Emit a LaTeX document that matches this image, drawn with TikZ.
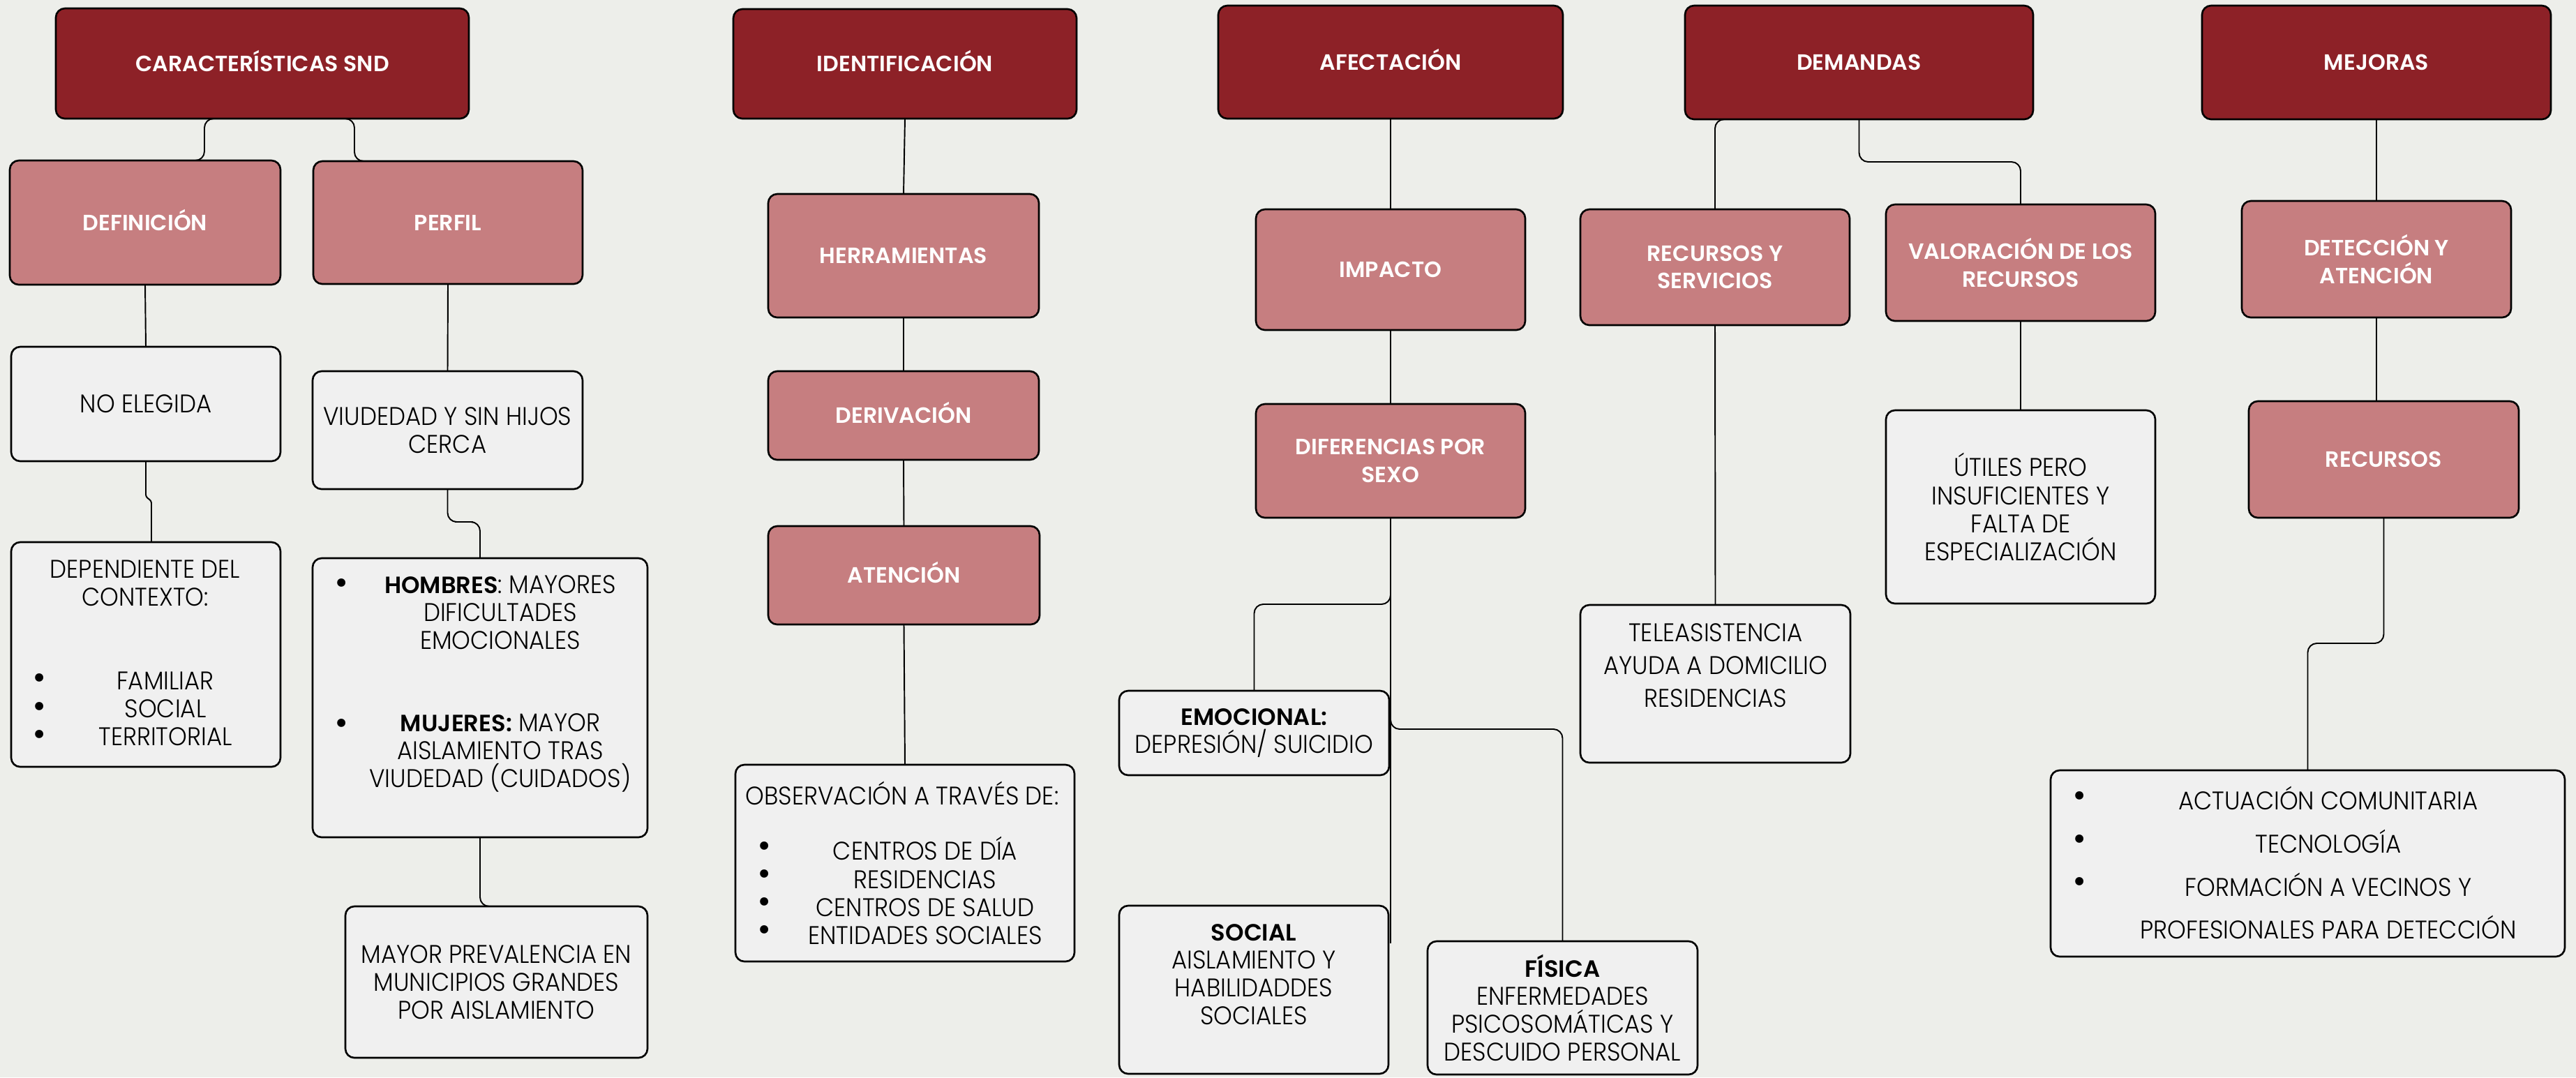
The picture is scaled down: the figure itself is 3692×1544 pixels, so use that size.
\documentclass[tikz,border=0pt]{standalone}
\usepackage{fontspec}
\IfFontExistsTF{Poppins SemiBold}
  {\newfontfamily\titlef{Poppins SemiBold}}
  {\newfontfamily\titlefam{Poppins}\newcommand\titlef{\titlefam\bfseries}}
\IfFontExistsTF{Poppins Light}
  {\newfontfamily\bodyf{Poppins Light}[FakeStretch=0.93]}
  {\newfontfamily\bodyf{Poppins}[FakeStretch=0.93]}
\newcommand\bodysize{\fontsize{10.4}{11.4}\selectfont}
\newcommand\bt[1]{{\titlef\fontsize{9.6}{11.4}\selectfont #1}}
\definecolor{cDark}{RGB}{141,33,39}
\definecolor{cPink}{RGB}{198,126,128}
\definecolor{cLight}{RGB}{240,240,240}
\definecolor{cBg}{RGB}{237,238,234}
\tikzset{
  base/.style={rectangle, rounded corners=0.13cm, draw=black, line width=0.75pt, inner sep=0pt, outer sep=0pt, align=center},
  dark/.style={base, fill=cDark, text=white, font=\titlef\fontsize{9}{11.2}\selectfont},
  pink/.style={base, fill=cPink, text=white, font=\titlef\fontsize{9}{11.2}\selectfont},
  oneline/.style={text height=6.4pt, text depth=0pt},
  light/.style={base, fill=cLight, text=black, font=\bodyf\bodysize},
  txt/.style={inner sep=0pt, outer sep=0pt, align=center, text=black, font=\bodyf\bodysize},
  bul/.style={inner sep=0pt, outer sep=0pt, align=center, text=black, font=\titlef\fontsize{12}{11.4}\selectfont},
  conn/.style={draw=black, line width=0.55pt, rounded corners=0.13cm},
}
\newcommand\bx[7]{\node[#2, minimum width={(#5-#3)*0.01cm}, minimum height={(#6-#4)*0.01cm}] (#1) at ({(#3+#5)/2},{(#4+#6)/2}) {#7};}
\begin{document}
\begin{tikzpicture}[x=0.01cm, y=-0.01cm]
\fill[cBg] (0,0) rectangle (3692,1544);
\useasboundingbox (0,0) rectangle (3692,1544);

% title boxes
\bx{car}{dark,oneline}{80}{12}{672}{170}{CARACTERÍSTICAS SND}
\bx{ide}{dark,oneline}{1051}{13}{1543}{170}{IDENTIFICACIÓN}
\bx{afe}{dark,oneline}{1746}{8}{2240}{170}{AFECTACIÓN}
\bx{dem}{dark,oneline}{2415}{8}{2914}{171}{DEMANDAS}
\bx{mej}{dark,oneline}{3156}{8}{3656}{171}{MEJORAS}

% pink boxes
\bx{def}{pink,oneline}{14}{230}{402}{408}{DEFINICIÓN}
\bx{per}{pink,oneline}{449}{231}{835}{407}{PERFIL}
\bx{her}{pink,oneline}{1101}{278}{1489}{455}{HERRAMIENTAS}
\bx{der}{pink,oneline}{1101}{532}{1489}{659}{DERIVACIÓN}
\bx{ate}{pink,oneline}{1101}{754}{1490}{895}{ATENCIÓN}
\bx{imp}{pink,oneline}{1800}{300}{2186}{473}{IMPACTO}
\bx{dif}{pink}{1800}{579}{2186}{742}{DIFERENCIAS POR\\SEXO}
\bx{rys}{pink}{2265}{300}{2651}{466}{RECURSOS Y\\SERVICIOS}
\bx{val}{pink}{2703}{293}{3089}{460}{VALORACIÓN DE LOS\\RECURSOS}
\bx{det}{pink}{3213}{288}{3599}{455}{DETECCIÓN Y\\ATENCIÓN}
\bx{rec}{pink,oneline}{3223}{575}{3610}{742}{RECURSOS}

% light boxes
\bx{noe}{light}{16}{497}{402}{661}{NO ELEGIDA}
\bx{viu}{light}{448}{532}{835}{701}{VIUDEDAD Y SIN HIJOS\\CERCA}
\bx{dep}{light}{16}{777}{402}{1099}{}
\node[txt] (depH) at (208,836) {DEPENDIENTE DEL\\CONTEXTO:};
\node[bul] (depB) at (57,1016) {•\\•\\•};
\node[txt] (depL) at (237,1016) {FAMILIAR\\SOCIAL\\TERRITORIAL};
\bx{hom}{light}{448}{800}{928}{1200}{}
\node[bul] (homB1) at (490,839) {•};
\node[txt] (homT1) at (717,878) {\bt{HOMBRES}: MAYORES\\DIFICULTADES\\EMOCIONALES};
\node[bul] (homB2) at (490,1040) {•};
\node[txt] (homT2) at (717,1079) {\bt{MUJERES:} MAYOR\\AISLAMIENTO TRAS\\VIUDEDAD (CUIDADOS)};
\bx{may}{light}{495}{1299}{928}{1516}{MAYOR PREVALENCIA EN\\MUNICIPIOS GRANDES\\POR AISLAMIENTO}
\bx{obs}{light}{1054}{1096}{1540}{1378}{}
\node[txt] (obsH) at (1293,1137) {OBSERVACIÓN A TRAVÉS DE:};
\node[bul] (obsB) at (1096,1276.5) {•\\•\\•\\•};
\node[txt] (obsL) at (1326,1276.5) {CENTROS DE DÍA\\RESIDENCIAS\\CENTROS DE SALUD\\ENTIDADES SOCIALES};
\bx{emo}{light}{1604}{990}{1991}{1111}{\bt{EMOCIONAL:}\\DEPRESIÓN/ SUICIDIO}
\bx{soc}{light}{1604}{1298}{1990}{1539}{}
\node[txt] (socT) at (1797,1397) {\bt{SOCIAL}\\AISLAMIENTO Y\\HABILIDADDES\\SOCIALES};
\bx{fis}{light}{2046}{1349}{2433}{1540}{\bt{FÍSICA}\\ENFERMEDADES\\PSICOSOMÁTICAS Y\\DESCUIDO PERSONAL}
\bx{tel}{light}{2265}{867}{2652}{1093}{}
\node[txt, font=\bodyf\fontsize{10.4}{13.4}\selectfont] (telT) at (2459,954) {TELEASISTENCIA\\AYUDA A DOMICILIO\\RESIDENCIAS};
\bx{uti}{light}{2703}{588}{3089}{865}{ÚTILES PERO\\INSUFICIENTES Y\\FALTA DE\\ESPECIALIZACIÓN}
\bx{act}{light}{2939}{1104}{3676}{1371}{}
\node[txt, font=\bodyf\fontsize{10.4}{17.6}\selectfont] (actT) at (3337,1236.5) {ACTUACIÓN COMUNITARIA\\TECNOLOGÍA\\FORMACIÓN A VECINOS Y\\PROFESIONALES PARA DETECCIÓN};
\node[bul, font=\titlef\fontsize{12}{17.6}\selectfont] (actB) at (2981,1206) {•\\•\\•};

% connectors
\draw[conn] (car.south) -| (293,200) |- (def.north);
\draw[conn] (car.south) -| (508,200) |- (per.north);
\draw[conn] (def.south) -- (noe.north);
\draw[conn, rounded corners=0.03cm] (noe.south) -- (209,712) -- (217,718) -- ([xshift=0.08cm]dep.north);
\draw[conn] (per.south) -- (viu.north);
\draw[conn] (viu.south) |- (665,748) -| (hom.north);
\draw[conn] (hom.south) |- (may.north);
\draw[conn] (ide.south) -- (her.north);
\draw[conn] (her.south) -- (der.north);
\draw[conn] (der.south) -- (ate.north);
\draw[conn] (ate.south) -- (obs.north);
\draw[conn] (afe.south) -- (imp.north);
\draw[conn] (imp.south) -- (dif.north);
\draw[conn] (dif.south) |- (1900,866) -| (emo.north);
\draw[conn] (dif.south) |- (2100,1045) -| (fis.north);
\coordinate (socend) at (1993,1352);
\draw[conn] (dif.south) -- (socend);
\draw[conn] (dem.south) -| (rys.north);
\draw[conn] (dem.south) |- (2780,232) -| (val.north);
\draw[conn] (rys.south) -- (tel.north);
\draw[conn] (val.south) -- (uti.north);
\draw[conn] (mej.south) -- (det.north);
\draw[conn] (det.south) -- (det.south |- rec.north);
\draw[conn] (rec.south) |- (3360,922) -| (act.north);
\end{tikzpicture}
\end{document}
